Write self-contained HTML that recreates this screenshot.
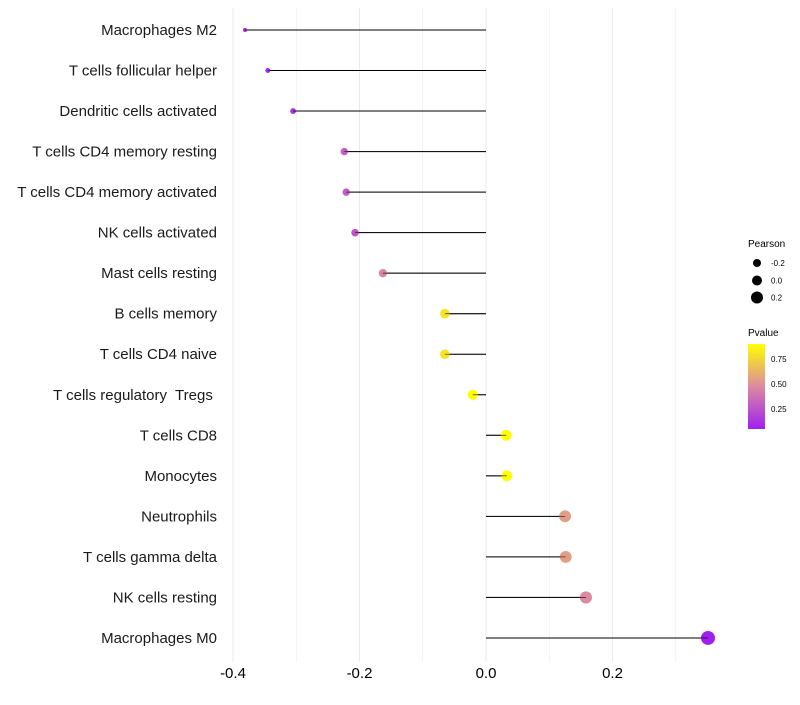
<!DOCTYPE html>
<html><head><meta charset="utf-8"><style>
body{margin:0;background:#fff;font-family:"Liberation Sans",sans-serif}
</style></head><body>
<svg id="chart" width="800" height="700" xmlns="http://www.w3.org/2000/svg" font-family="Liberation Sans, sans-serif">
<g id="grid"></g>
<g id="ylabels"></g>
<g id="marks"></g>
<g id="xticks"></g>
<g>
<text x="748" y="247" font-size="10">Pearson</text>
<circle cx="757" cy="263" r="4"/><text x="771" y="266" font-size="8">-0.2</text>
<circle cx="757" cy="280.5" r="5"/><text x="771" y="283.5" font-size="8">0.0</text>
<circle cx="757" cy="297.5" r="6"/><text x="771" y="300.5" font-size="8">0.2</text>
</g>
<g>
<defs><linearGradient id="pg" x1="0" y1="1" x2="0" y2="0">
<stop offset="0" stop-color="#a020f0"/><stop offset="0.5" stop-color="#dc8aa0"/><stop offset="1" stop-color="#ffff00"/></linearGradient></defs>
<text x="748" y="336" font-size="10">Pvalue</text>
<rect x="748" y="344" width="17" height="85" fill="url(#pg)"/>
<text x="771" y="362" font-size="8">0.75</text>
<text x="771" y="387" font-size="8">0.50</text>
<text x="771" y="412" font-size="8">0.25</text>
</g>
</svg>
<script>
const cells=["Macrophages M2","T cells follicular helper","Dendritic cells activated","T cells CD4 memory resting","T cells CD4 memory activated","NK cells activated","Mast cells resting","B cells memory","T cells CD4 naive","T cells regulatory  Tregs ","T cells CD8","Monocytes","Neutrophils","T cells gamma delta","NK cells resting","Macrophages M0"];
const pearson=[-0.381,-0.345,-0.305,-0.224,-0.221,-0.207,-0.163,-0.065,-0.065,-0.021,0.032,0.033,0.125,0.126,0.158,0.351];
const pvalue=[0.08,0.1,0.14,0.3,0.3,0.28,0.45,0.8,0.8,0.92,0.92,0.92,0.55,0.55,0.48,0.06];
const xTicks=[-0.4,-0.2,0,0.2];
const xTickLabels=["-0.4","-0.2","0.0","0.2"];
const NS="http://www.w3.org/2000/svg";
const x=v=>486+v*632.5;
const y=i=>30+i*40.53;
function mk(t,a,p){const e=document.createElementNS(NS,t);for(const k in a)e.setAttribute(k,a[k]);p.appendChild(e);return e;}
function col(p){let t=(p-0.06)/(0.9-0.06);t=Math.max(0,Math.min(1,t));
 const s=[[160,32,240],[220,138,160],[255,255,0]];let a,b,u;
 if(t<0.5){a=s[0];b=s[1];u=t/0.5}else{a=s[1];b=s[2];u=(t-0.5)/0.5}
 return `rgb(${a.map((c,i)=>Math.round(c+(b[i]-c)*u)).join(",")})`;}
const grid=document.getElementById('grid');
for(let v=-0.4;v<=0.31;v+=0.1){const g=mk('line',{x1:x(v),x2:x(v),y1:8,y2:662,stroke:'#ebebeb','stroke-width':Math.abs(Math.round(v*10))%2==0?1:0.6},grid);

}
const xt=document.getElementById('xticks');
xTicks.forEach((v,i)=>{const t=mk('text',{x:x(v),y:678,'font-size':15,'text-anchor':'middle',fill:'#000'},xt);t.textContent=xTickLabels[i];

});
const yl=document.getElementById('ylabels'),mg=document.getElementById('marks');
cells.forEach((c,i)=>{
 const t=mk('text',{x:217,y:y(i)+5,'font-size':15,'text-anchor':'end',fill:'#1a1a1a',style:'white-space:pre'},yl);t.textContent=c;
 
 
 const l=mk('line',{x1:x(0),x2:x(pearson[i]),y1:y(i),y2:y(i),stroke:'#000','stroke-width':1},mg);
 
 
 const r=Math.sqrt(Math.max(3,27.4+61.6*pearson[i]));
 const d=mk('circle',{cx:x(pearson[i]),cy:y(i),r:r,fill:col(pvalue[i])},mg);
 
 
 mk('line',{x1:x(0),x2:x(pearson[i]),y1:y(i),y2:y(i),stroke:'#000','stroke-width':0.8,'stroke-opacity':0.7},mg);
});
</script>
</body></html>
